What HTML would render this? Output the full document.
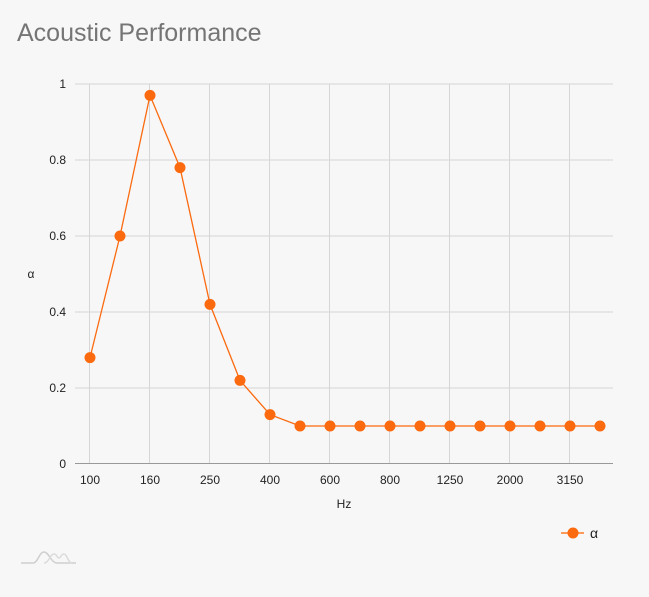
<!DOCTYPE html>
<html><head><meta charset="utf-8"><style>
body{margin:0;background:#f7f7f7;font-family:"Liberation Sans",sans-serif;}
</style></head><body>
<svg width="649" height="592" xmlns="http://www.w3.org/2000/svg">
<rect width="649" height="592" fill="#f7f7f7"/>
<text x="17" y="41" font-size="25" fill="#757575">Acoustic Performance</text>
<g stroke="#d6d6d6" stroke-width="1">
<line x1="75" y1="84" x2="613" y2="84"/>
<line x1="75" y1="160" x2="613" y2="160"/>
<line x1="75" y1="236" x2="613" y2="236"/>
<line x1="75" y1="312" x2="613" y2="312"/>
<line x1="75" y1="388" x2="613" y2="388"/>
<line x1="89.5" y1="84" x2="89.5" y2="464"/>
<line x1="149.5" y1="84" x2="149.5" y2="464"/>
<line x1="209.5" y1="84" x2="209.5" y2="464"/>
<line x1="269.5" y1="84" x2="269.5" y2="464"/>
<line x1="329.5" y1="84" x2="329.5" y2="464"/>
<line x1="389.5" y1="84" x2="389.5" y2="464"/>
<line x1="449.5" y1="84" x2="449.5" y2="464"/>
<line x1="509.5" y1="84" x2="509.5" y2="464"/>
<line x1="569.5" y1="84" x2="569.5" y2="464"/>
</g>
<line x1="75" y1="463.5" x2="613" y2="463.5" stroke="#999" stroke-width="1"/>
<g font-size="12" fill="#222" text-anchor="end">
<text x="66" y="88">1</text><text x="66" y="164">0.8</text><text x="66" y="240">0.6</text>
<text x="66" y="316">0.4</text><text x="66" y="392">0.2</text><text x="66" y="468">0</text>
</g>
<g font-size="12" fill="#222" text-anchor="middle">
<text x="90" y="484">100</text><text x="150" y="484">160</text><text x="210" y="484">250</text>
<text x="270" y="484">400</text><text x="330" y="484">600</text><text x="390" y="484">800</text>
<text x="450" y="484">1250</text><text x="510" y="484">2000</text><text x="570" y="484">3150</text>
<text x="344" y="508">Hz</text>
</g>
<text x="31" y="278" font-size="12" fill="#222" text-anchor="middle">α</text>
<polyline fill="none" stroke="#fb6a0f" stroke-width="1.3" points="90,357.6 120,236 150,95.4 180,167.6 210,304.4 240,380.4 270,414.6 300,426 330,426 360,426 390,426 420,426 450,426 480,426 510,426 540,426 570,426 600,426"/>
<g fill="#fb6a0f">
<circle cx="90" cy="357.6" r="5.5"/><circle cx="120" cy="236" r="5.5"/><circle cx="150" cy="95.4" r="5.5"/>
<circle cx="180" cy="167.6" r="5.5"/><circle cx="210" cy="304.4" r="5.5"/><circle cx="240" cy="380.4" r="5.5"/>
<circle cx="270" cy="414.6" r="5.5"/><circle cx="300" cy="426" r="5.5"/><circle cx="330" cy="426" r="5.5"/>
<circle cx="360" cy="426" r="5.5"/><circle cx="390" cy="426" r="5.5"/><circle cx="420" cy="426" r="5.5"/>
<circle cx="450" cy="426" r="5.5"/><circle cx="480" cy="426" r="5.5"/><circle cx="510" cy="426" r="5.5"/>
<circle cx="540" cy="426" r="5.5"/><circle cx="570" cy="426" r="5.5"/><circle cx="600" cy="426" r="5.5"/>
</g>
<line x1="561" y1="533" x2="584" y2="533" stroke="#fb9a5a" stroke-width="2"/>
<circle cx="573" cy="533" r="5.5" fill="#fb6a0f"/>
<text x="590" y="538" font-size="14" fill="#222">α</text>
<g fill="none" stroke-width="1.5">
<path d="M21,563 H33 C38,563 39,552 44,552 C49,552 51,563 57,563 H76" stroke="#cfcfcf"/>
<path d="M44,563 C49,563 50,554 54,554 C57,554 57,558 59,558 C61,558 61,554 64,554 C67,554 68,563 72,563" stroke="#dcdcdc"/>
</g>
</svg>
</body></html>
